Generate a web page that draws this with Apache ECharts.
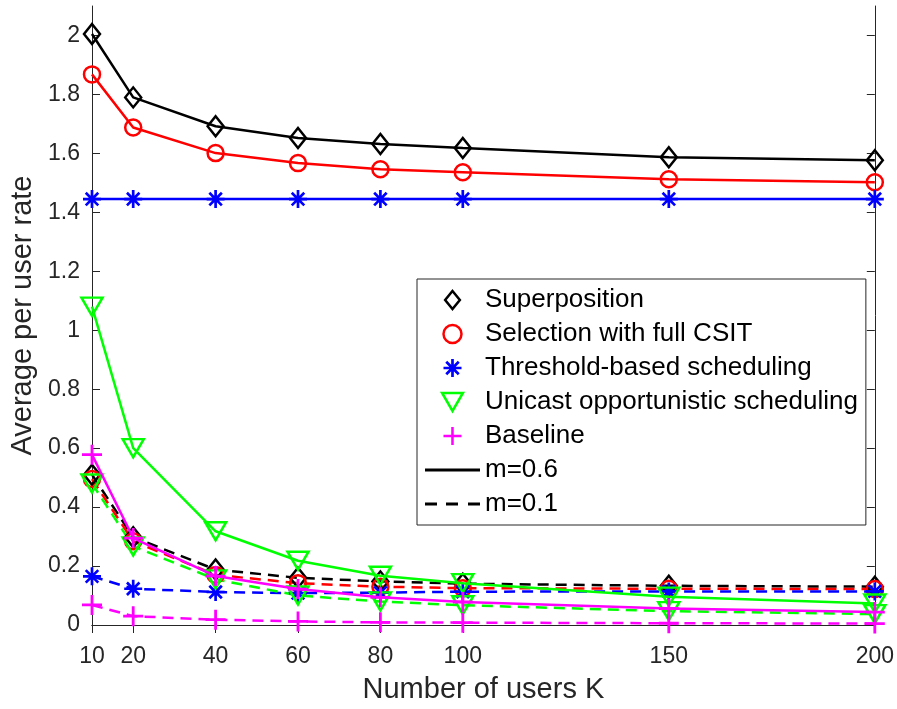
<!DOCTYPE html>
<html>
<head>
<meta charset="utf-8">
<script src="https://cdn.jsdelivr.net/npm/echarts@6/dist/echarts.min.js"></script>
<style>html,body{margin:0;padding:0;background:#fff;}#c{width:897px;height:709px;}</style>
</head>
<body>
<div id="c"></div>
<script>
// ---- data ----
const users = [10, 20, 40, 60, 80, 100, 150, 200];
const xTicks = [10, 20, 40, 60, 80, 100, 150, 200];
const yTicks = [0, 0.2, 0.4, 0.6, 0.8, 1, 1.2, 1.4, 1.6, 1.8, 2];

// m = 0.6 (solid)
const superposition06 = [2.005, 1.79, 1.692, 1.652, 1.632, 1.618, 1.587, 1.577];
const selection06     = [1.868, 1.688, 1.601, 1.567, 1.546, 1.536, 1.512, 1.502];
const threshold06     = [1.445, 1.445, 1.445, 1.445, 1.445, 1.445, 1.445, 1.445];
const unicast06       = [1.08, 0.60, 0.318, 0.218, 0.167, 0.142, 0.096, 0.073];
const baseline06      = [0.578, 0.295, 0.166, 0.122, 0.094, 0.078, 0.056, 0.044];

// m = 0.1 (dashed)
const superposition01 = [0.51, 0.298, 0.188, 0.16, 0.148, 0.14, 0.133, 0.13];
const selection01     = [0.495, 0.284, 0.17, 0.142, 0.13, 0.125, 0.123, 0.122];
const threshold01     = [0.165, 0.123, 0.112, 0.108, 0.11, 0.113, 0.114, 0.114];
const unicast01       = [0.48, 0.267, 0.155, 0.1, 0.08, 0.067, 0.047, 0.037];
const baseline01      = [0.068, 0.03, 0.018, 0.012, 0.009, 0.008, 0.006, 0.005];

const names = ['Superposition', 'Selection with full CSIT', 'Threshold-based scheduling',
               'Unicast opportunistic scheduling', 'Baseline'];

// ---- styles ----
const FONT = '"Liberation Sans", Arial, Helvetica, sans-serif';
const AX = '#262626';
const DIAMOND = 'path://M10,0L19,11L10,22L1,11Z';
const ASTERISK = 'path://M8.5,0H11.5V20H8.5Z M0,8.5H20V11.5H0Z M2,4.1L4.1,2L18,15.9L15.9,18Z M15.9,2L18,4.1L4.1,18L2,15.9Z';
const PLUS = 'path://M8.6,0H11.4V20H8.6Z M0,8.6H20V11.4H0Z';
const TRI_DOWN = 'path://M0,0L20,0L10,17.3Z';
const LINE_SOLID = 'path://M0,0H55V3H0Z';
const LINE_DASH = 'path://M0,0H12V3H0Z M21,0H33V3H21Z M43,0H55V3H43Z';

const specs = [
  {color: '#000000', symbol: DIAMOND, size: [16, 20], hollow: true, a: superposition06, b: superposition01},
  {color: '#ff0000', symbol: 'circle', size: 16, hollow: true, a: selection06, b: selection01},
  {color: '#0000ff', symbol: ASTERISK, size: 18, hollow: false, a: threshold06, b: threshold01},
  {color: '#00ff00', symbol: TRI_DOWN, size: [21, 18], hollow: true, a: unicast06, b: unicast01},
  {color: '#ff00ff', symbol: PLUS, size: 20, hollow: false, a: baseline06, b: baseline01}
];

function mk(name, spec, vals, dashed) {
  return {
    name: name,
    type: 'line',
    xAxisIndex: 0, yAxisIndex: 0,
    data: users.map((u, i) => [u, vals[i]]),
    symbol: spec.symbol,
    symbolSize: spec.size,
    symbolKeepAspect: false,
    showAllSymbol: true,
    animation: false,
    lineStyle: {color: spec.color, width: 2.5, type: dashed ? [11, 7] : 'solid'},
    itemStyle: spec.hollow
      ? {color: 'rgba(0,0,0,0)', borderColor: spec.color, borderWidth: 2.5}
      : {color: spec.color, borderWidth: 0},
    emphasis: {disabled: true},
    z: dashed ? 2 : 3
  };
}

const series = [];
specs.forEach((s, i) => series.push(mk(names[i] + ' (m=0.1)', s, s.b, true)));
specs.forEach((s, i) => series.push(mk(names[i], s, s.a, false)));
series.push({name: 'm=0.6', type: 'line', data: [], lineStyle: {color: '#000', width: 2.5}, itemStyle: {color: '#000'}});
series.push({name: 'm=0.1', type: 'line', data: [], lineStyle: {color: '#000', width: 2.5, type: [11, 7]}, itemStyle: {color: '#000'}});

const legendData = specs.map((s, i) => ({
  name: names[i],
  icon: s.symbol,
  itemStyle: s.hollow
    ? {color: '#ffffff', borderColor: s.color, borderWidth: 2.5}
    : {color: s.color, borderWidth: 0}
}));
legendData.push({name: 'm=0.6', icon: LINE_SOLID, itemStyle: {color: '#000', borderWidth: 0}});
legendData.push({name: 'm=0.1', icon: LINE_DASH, itemStyle: {color: '#000', borderWidth: 0}});

const chart = echarts.init(document.getElementById('c'), null, {renderer: 'canvas'});
chart.setOption({
  backgroundColor: '#ffffff',
  animation: false,
  grid: {left: 92, right: 20, top: 6, bottom: 82, containLabel: false},
  xAxis: [{
    type: 'value', min: 10, max: 200, position: 'bottom',
    name: 'Number of users K', nameLocation: 'middle', nameGap: 50,
    nameTextStyle: {fontFamily: FONT, fontSize: 29, color: AX},
    axisLine: {show: true, lineStyle: {color: AX, width: 1}},
    axisTick: {show: true, inside: true, length: 8, lineStyle: {color: AX}, customValues: xTicks},
    axisLabel: {show: true, fontFamily: FONT, fontSize: 23, color: AX, margin: 20, customValues: xTicks},
    splitLine: {show: false}
  }, {
    type: 'value', min: 10, max: 200, position: 'top',
    axisLine: {show: true, lineStyle: {color: AX, width: 1}},
    axisTick: {show: true, inside: true, length: 8, lineStyle: {color: AX}, customValues: xTicks},
    axisLabel: {show: false},
    splitLine: {show: false}
  }],
  yAxis: [{
    type: 'value', min: 0, max: 2.1, position: 'left',
    name: 'Average per user rate', nameLocation: 'middle', nameGap: 55, nameRotate: 90,
    nameTextStyle: {fontFamily: FONT, fontSize: 29, color: AX},
    axisLine: {show: true, lineStyle: {color: AX, width: 1}},
    axisTick: {show: true, inside: true, length: 8, lineStyle: {color: AX}, customValues: yTicks},
    axisLabel: {show: true, fontFamily: FONT, fontSize: 23, color: AX, margin: 12, customValues: yTicks},
    splitLine: {show: false}
  }, {
    type: 'value', min: 0, max: 2.1, position: 'right',
    axisLine: {show: true, lineStyle: {color: AX, width: 1}},
    axisTick: {show: true, inside: true, length: 8, lineStyle: {color: AX}, customValues: yTicks},
    axisLabel: {show: false},
    splitLine: {show: false}
  }],
  legend: {
    show: true, orient: 'vertical', left: 417, top: 279,
    padding: [6, 8, 6, 8],
    itemWidth: 55, itemHeight: 18, itemGap: 4,
    symbolKeepAspect: true,
    backgroundColor: '#ffffff', borderColor: AX, borderWidth: 1,
    selectedMode: false,
    textStyle: {fontFamily: FONT, fontSize: 26, color: '#000', lineHeight: 30},
    data: legendData
  },
  series: series
});
</script>
</body>
</html>
